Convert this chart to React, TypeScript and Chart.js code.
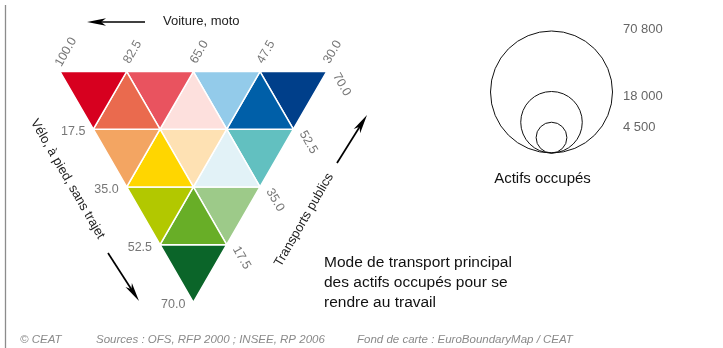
import { useEffect, useRef } from 'react';
import { Chart, registerables } from 'chart.js';

Chart.register(...registerables);

// ---- Data ----
const carTicks = ['100.0', '82.5', '65.0', '47.5', '30.0'];
const bikeTicks = ['17.5', '35.0', '52.5', '70.0'];
const transitTicks = ['70.0', '52.5', '35.0', '17.5'];
const bikeLevels = [0, 17.5, 35, 52.5, 70];
const transitLevels = [0, 17.5, 35, 52.5, 70];
const rowColors = [
  ['#d7001f', '#ea6a4e', '#e9535f', '#fde0dd', '#93cbea', '#005fa8', '#003f8a'],
  ['#f3a562', '#ffd600', '#fee1b3', '#e2f2f7', '#62c0c0'],
  ['#b2c800', '#68ae27', '#9dca89'],
  ['#0b6529'],
];
const circleValues = [70800, 18000, 4500];
const circleLabels = ['70 800', '18 000', '4 500'];
const carTitle = 'Voiture, moto';
const bikeTitle = 'Vélo, à pied, sans trajet';
const transitTitle = 'Transports publics';
const circleTitle = 'Actifs occupés';
const mainTitle = ['Mode de transport principal', 'des actifs occupés pour se', 'rendre au travail'];
const footer = ['© CEAT', 'Sources : OFS, RFP 2000 ; INSEE, RP 2006', 'Fond de carte : EuroBoundaryMap / CEAT'];

// ---- Geometry / layout ----
const W = 723;
const H = 348;
const PX = 3.81; // pixels per share unit
const ORIGIN_X = 60;
const ORIGIN_Y = 71.5;
const SQ = Math.sqrt(3) / 2;
const FONT = '"Liberation Sans", Arial, Helvetica, sans-serif';

const toXY = (b: number, p: number) => ({ x: p + b / 2, y: b * SQ });

function buildCells() {
  const cells: { pts: { x: number; y: number }[]; color: string }[] = [];
  rowColors.forEach((row, i) => {
    row.forEach((color, k) => {
      const j = Math.floor(k / 2);
      const b0 = bikeLevels[i], b1 = bikeLevels[i + 1];
      const p0 = transitLevels[j], p1 = transitLevels[j + 1];
      let tri: [number, number][];
      if (k % 2 === 0) tri = [[b0, p0], [b0, p1], [b1, p0]];
      else tri = [[b0, p1], [b1, p0], [b1, p1]];
      const pts = tri.map(([b, p]) => toXY(b, p));
      pts.push(pts[0]);
      cells.push({ pts, color });
    });
  });
  return cells;
}

const CIRCLE_MAX_R = 61;
const CIRCLE_CX = (551.5 - ORIGIN_X) / PX;
const CIRCLE_BASE = (153 - ORIGIN_Y) / PX;
const circleR = (v: number) => CIRCLE_MAX_R * Math.sqrt(v / circleValues[0]);

function drawArrow(ctx: CanvasRenderingContext2D, x1: number, y1: number, x2: number, y2: number) {
  const ang = Math.atan2(y2 - y1, x2 - x1);
  const ux = Math.cos(ang), uy = Math.sin(ang);
  const hl = 19, hw = 3.8, notch = 5;
  const bx = x2 - hl * ux, by = y2 - hl * uy;
  ctx.save();
  ctx.strokeStyle = '#000';
  ctx.fillStyle = '#000';
  ctx.lineWidth = 1.7;
  ctx.beginPath();
  ctx.moveTo(x1, y1);
  ctx.lineTo(bx + (notch + 2) * ux, by + (notch + 2) * uy);
  ctx.stroke();
  ctx.beginPath();
  ctx.moveTo(x2, y2);
  ctx.lineTo(bx - hw * uy, by + hw * ux);
  ctx.lineTo(bx + notch * ux, by + notch * uy);
  ctx.lineTo(bx + hw * uy, by - hw * ux);
  ctx.closePath();
  ctx.fill();
  ctx.restore();
}

function rotText(ctx: CanvasRenderingContext2D, text: string, x: number, y: number, deg: number, align: CanvasTextAlign) {
  ctx.save();
  ctx.translate(x, y);
  ctx.rotate((deg * Math.PI) / 180);
  ctx.textAlign = align;
  ctx.textBaseline = 'middle';
  ctx.fillText(text, 0, 0);
  ctx.restore();
}

const annotations = {
  id: 'annotations',
  afterDraw(chart: any) {
    const ctx: CanvasRenderingContext2D = chart.ctx;
    const xs = chart.scales.x;
    const ys = chart.scales.y;
    const P = (b: number, p: number) => {
      const q = toXY(b, p);
      return [xs.getPixelForValue(q.x), ys.getPixelForValue(q.y)];
    };
    ctx.save();

    // frame edge
    ctx.strokeStyle = '#8c8c8c';
    ctx.lineWidth = 1.3;
    ctx.beginPath();
    ctx.moveTo(5.5, 5);
    ctx.lineTo(5.5, H);
    ctx.stroke();

    // tick labels
    ctx.fillStyle = '#777';
    ctx.font = `12.5px ${FONT}`;
    carTicks.forEach((t) => {
      const c = parseFloat(t);
      const [x, y] = P(0, 100 - c);
      rotText(ctx, t, x + 6, y - 19.5, -60, 'center');
    });
    bikeTicks.forEach((t) => {
      const b = parseFloat(t);
      const [x, y] = P(b, 0);
      rotText(ctx, t, x - 8, y + 2.5, 0, 'right');
    });
    transitTicks.forEach((t) => {
      const p = parseFloat(t);
      const [x, y] = P(70 - p, p);
      rotText(ctx, t, x + 15, y + 13, 60, 'center');
    });

    // axis titles
    ctx.fillStyle = '#222';
    ctx.font = `13px ${FONT}`;
    ctx.textAlign = 'left';
    ctx.textBaseline = 'alphabetic';
    ctx.fillText(carTitle, 163, 25);
    rotText(ctx, bikeTitle, 67.5, 179, 60, 'center');
    rotText(ctx, transitTitle, 304, 220, -60, 'center');

    drawArrow(ctx, 145, 22, 87, 22);
    drawArrow(ctx, 108, 253, 139, 301);
    drawArrow(ctx, 337, 163, 367, 115);

    // circle legend labels
    ctx.fillStyle = '#666';
    ctx.font = `13px ${FONT}`;
    circleValues.forEach((v, i) => {
      const r = circleR(v);
      const topY = ys.getPixelForValue(CIRCLE_BASE) - 2 * r;
      rotText(ctx, circleLabels[i], 623, topY + (i === 0 ? -2 : 5), 0, 'left');
    });
    ctx.fillStyle = '#111';
    ctx.font = `15px ${FONT}`;
    rotText(ctx, circleTitle, 542.5, 178.5, 0, 'center');

    // main title
    ctx.font = `15.5px ${FONT}`;
    ctx.textAlign = 'left';
    ctx.textBaseline = 'alphabetic';
    mainTitle.forEach((line, i) => ctx.fillText(line, 324, 267 + i * 20));

    // footer
    ctx.fillStyle = '#8a8a8a';
    ctx.font = `italic 11.5px ${FONT}`;
    ctx.fillText(footer[0], 20, 343);
    ctx.fillText(footer[1], 96, 343);
    ctx.fillText(footer[2], 357, 343);

    ctx.restore();
  },
};

export default function App() {
  const ref = useRef<HTMLCanvasElement>(null);
  useEffect(() => {
    document.body.style.margin = '0';
    const cells = buildCells();
    const datasets: any[] = cells.map((c) => ({
      type: 'line',
      data: c.pts,
      backgroundColor: c.color,
      borderColor: '#ffffff',
      borderWidth: 1.5,
      fill: 'shape',
      pointRadius: 0,
      tension: 0,
      clip: false,
    }));
    datasets.push({
      type: 'bubble',
      data: circleValues.map((v) => ({ x: CIRCLE_CX, y: CIRCLE_BASE - circleR(v) / PX, r: circleR(v) })),
      backgroundColor: 'rgba(0,0,0,0)',
      borderColor: '#111',
      borderWidth: 1,
      hoverRadius: 0,
      clip: false,
    });
    const chart = new Chart(ref.current!, {
      type: 'line',
      data: { datasets },
      options: {
        animation: false,
        responsive: false,
        devicePixelRatio: 1,
        layout: { padding: 0, autoPadding: false },
        events: [],
        plugins: { legend: { display: false }, tooltip: { enabled: false }, title: { display: false } },
        scales: {
          x: { type: 'linear', display: false, min: -ORIGIN_X / PX, max: (W - ORIGIN_X) / PX },
          y: { type: 'linear', display: false, reverse: true, min: -ORIGIN_Y / PX, max: (H - ORIGIN_Y) / PX },
        },
      },
      plugins: [annotations],
    });
    return () => chart.destroy();
  }, []);
  return <canvas ref={ref} width={W} height={H} style={{ display: 'block' }} />;
}
